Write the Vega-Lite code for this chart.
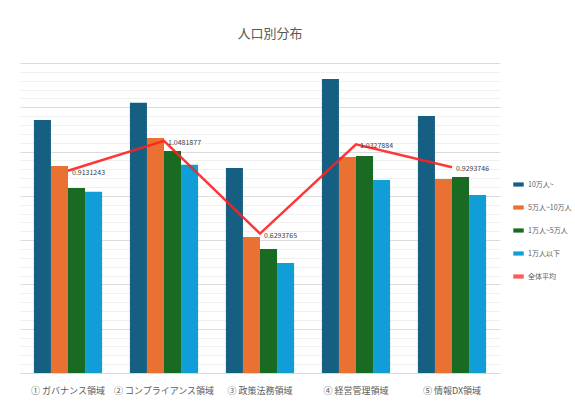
{
  "$schema": "https://vega.github.io/schema/vega-lite/v6.json",
  "width": 480,
  "height": 310,
  "autosize": {"type": "none"},
  "padding": {"left": 20, "top": 63, "right": 75, "bottom": 34},
  "background": "#ffffff",
  "title": {
    "text": "人口別分布",
    "fontSize": 13,
    "font": "Noto Sans CJK JP",
    "fontWeight": "normal",
    "color": "#595959",
    "offset": 22,
    "anchor": "middle",
    "dx": 10
  },
  "config": {
    "view": {"stroke": null},
    "font": "Noto Sans CJK JP"
  },
  "datasets": {
    "bars": [
      {"group": "① ガバナンス領域", "series": "10万人~", "value": 1.143},
      {"group": "① ガバナンス領域", "series": "5万人~10万人", "value": 0.935},
      {"group": "① ガバナンス領域", "series": "1万人~5万人", "value": 0.836},
      {"group": "① ガバナンス領域", "series": "1万人以下", "value": 0.818},
      {"group": "② コンプライアンス領域", "series": "10万人~", "value": 1.22},
      {"group": "② コンプライアンス領域", "series": "5万人~10万人", "value": 1.061},
      {"group": "② コンプライアンス領域", "series": "1万人~5万人", "value": 1.003},
      {"group": "② コンプライアンス領域", "series": "1万人以下", "value": 0.94},
      {"group": "③ 政策法務領域", "series": "10万人~", "value": 0.926},
      {"group": "③ 政策法務領域", "series": "5万人~10万人", "value": 0.614},
      {"group": "③ 政策法務領域", "series": "1万人~5万人", "value": 0.56},
      {"group": "③ 政策法務領域", "series": "1万人以下", "value": 0.497},
      {"group": "④ 経営管理領域", "series": "10万人~", "value": 1.328},
      {"group": "④ 経営管理領域", "series": "5万人~10万人", "value": 0.976},
      {"group": "④ 経営管理領域", "series": "1万人~5万人", "value": 0.98},
      {"group": "④ 経営管理領域", "series": "1万人以下", "value": 0.872},
      {"group": "⑤ 情報DX領域", "series": "10万人~", "value": 1.161},
      {"group": "⑤ 情報DX領域", "series": "5万人~10万人", "value": 0.876},
      {"group": "⑤ 情報DX領域", "series": "1万人~5万人", "value": 0.885},
      {"group": "⑤ 情報DX領域", "series": "1万人以下", "value": 0.804}
    ],
    "avg": [
      {"group": "① ガバナンス領域", "series": "全体平均", "value": 0.9131243, "label": "0.9131243"},
      {"group": "② コンプライアンス領域", "series": "全体平均", "value": 1.0481877, "label": "1.0481877"},
      {"group": "③ 政策法務領域", "series": "全体平均", "value": 0.6293765, "label": "0.6293765"},
      {"group": "④ 経営管理領域", "series": "全体平均", "value": 1.0327884, "label": "1.0327884"},
      {"group": "⑤ 情報DX領域", "series": "全体平均", "value": 0.9293746, "label": "0.9293746"}
    ]
  },
  "encoding": {
    "x": {
      "field": "group",
      "type": "nominal",
      "sort": null,
      "scale": {"paddingInner": 0.29, "paddingOuter": 0.145},
      "axis": {
        "title": null,
        "labelAngle": 0,
        "labelFontSize": 9,
        "labelColor": "#595959",
        "labelPadding": 13,
        "ticks": false,
        "domainColor": "#d9d9d9",
        "domainWidth": 1
      }
    },
    "y": {
      "field": "value",
      "type": "quantitative",
      "scale": {"domain": [0, 1.4], "nice": false},
      "axis": {
        "title": null,
        "labels": false,
        "ticks": false,
        "domain": false,
        "values": [0, 0.04, 0.08, 0.12, 0.16, 0.2, 0.24, 0.28, 0.32, 0.36, 0.4, 0.44, 0.48, 0.52, 0.56, 0.6, 0.64, 0.68, 0.72, 0.76, 0.8, 0.84, 0.88, 0.92, 0.96, 1.0, 1.04, 1.08, 1.12, 1.16, 1.2, 1.24, 1.28, 1.32, 1.36, 1.4],
        "gridColor": {
          "condition": {"test": "abs(datum.value * 5 - round(datum.value * 5)) < 0.001", "value": "#dcdcdc"},
          "value": "#f0f0f0"
        },
        "gridWidth": 1
      }
    }
  },
  "layer": [
    {
      "data": {"name": "bars"},
      "mark": {"type": "bar"},
      "encoding": {
        "xOffset": {"field": "series", "type": "nominal", "sort": null, "scale": {"domain": ["10万人~", "5万人~10万人", "1万人~5万人", "1万人以下"], "paddingInner": 0, "paddingOuter": 0}},
        "color": {
          "field": "series",
          "type": "nominal",
          "scale": {
            "domain": ["10万人~", "5万人~10万人", "1万人~5万人", "1万人以下", "全体平均"],
            "range": ["#156082", "#e97132", "#196b24", "#0f9ed5", "#ff5a5a"]
          },
          "legend": {
            "title": null,
            "orient": "none",
            "legendX": 493,
            "legendY": 116,
            "symbolType": "M-1,-0.4H1V0.4H-1Z",
            "symbolSize": 110,
            "symbolStrokeWidth": 0,
            "labelFontSize": 7,
            "labelColor": "#595959",
            "rowPadding": 14,
            "labelOffset": 4
          }
        }
      }
    },
    {
      "data": {"name": "avg"},
      "mark": {"type": "line", "color": "#ff2020", "strokeWidth": 2.5, "opacity": 0.9},
      "encoding": {}
    },
    {
      "data": {"name": "avg"},
      "mark": {"type": "text", "align": "left", "baseline": "middle", "dx": 4, "dy": 2, "fontSize": 7, "color": "#404040"},
      "encoding": {"text": {"field": "label"}}
    }
  ]
}
